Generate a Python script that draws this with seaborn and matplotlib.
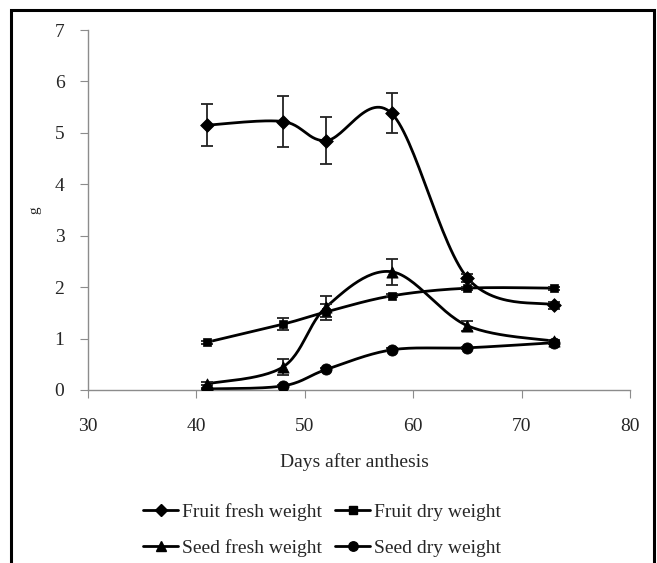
import numpy as np
import matplotlib
matplotlib.use("Agg")
import matplotlib.pyplot as plt
import seaborn as sns
from matplotlib.lines import Line2D
from matplotlib.patches import Rectangle

days = [41, 48, 52, 58, 65, 73]
fruit_fresh = [5.15, 5.22, 4.85, 5.38, 2.18, 1.65]
fruit_fresh_err = [0.41, 0.49, 0.45, 0.39, 0.08, 0.07]
fruit_dry = [0.93, 1.28, 1.52, 1.83, 1.98, 1.98]
fruit_dry_err = [0.03, 0.12, 0.15, 0.03, 0.03, 0.03]
seed_fresh = [0.12, 0.45, 1.62, 2.30, 1.25, 0.95]
seed_fresh_err = [0.03, 0.15, 0.20, 0.25, 0.10, 0.03]
seed_dry = [0.02, 0.08, 0.40, 0.78, 0.82, 0.92]
seed_dry_err = [0.01, 0.02, 0.03, 0.03, 0.02, 0.02]

labels = ["Fruit fresh weight", "Fruit dry weight", "Seed fresh weight", "Seed dry weight"]
markers = ["D", "s", "^", "o"]
msizes = [7, 6, 8, 8]

sns.set_style("white")
plt.rcParams["font.family"] = ["Liberation Serif", "DejaVu Serif"]

fig = plt.figure(figsize=(6.57, 5.63), dpi=100)
ax = fig.add_axes([88/657, 1 - 390/563, (630-88)/657, (390-30)/563])


def smooth(x, y, n=30):
    x = np.asarray(x, float)
    y = np.asarray(y, float)
    P = np.column_stack([x, y])
    Pe = np.vstack([P[0], P, P[-1]])
    out = []
    for i in range(len(P) - 1):
        p0, p1, p2, p3 = Pe[i], Pe[i+1], Pe[i+2], Pe[i+3]
        c1 = p1 + (p2 - p0) / 6
        c2 = p2 - (p3 - p1) / 6
        t = np.linspace(0, 1, n)[:, None]
        seg = (1-t)**3*p1 + 3*(1-t)**2*t*c1 + 3*(1-t)*t**2*c2 + t**3*p2
        out.append(seg if i == 0 else seg[1:])
    s = np.vstack(out)
    return s[:, 0], s[:, 1]


series = [(fruit_fresh, fruit_fresh_err), (fruit_dry, fruit_dry_err),
          (seed_fresh, seed_fresh_err), (seed_dry, seed_dry_err)]
for (vals, errs), m, ms in zip(series, markers, msizes):
    sx, sy = smooth(days, vals)
    sns.lineplot(x=sx, y=sy, ax=ax, color="black", lw=2, sort=False, estimator=None)
    ax.errorbar(days, vals, yerr=errs, fmt="none", ecolor="#222222", elinewidth=1.3,
                capsize=4, capthick=1.3, zorder=3)
    sns.scatterplot(x=days, y=vals, ax=ax, marker=m, s=ms**2, color="black",
                    edgecolor="black", zorder=4, legend=False)

ax.set_xlim(30, 80)
ax.set_ylim(0, 7)
ax.set_xticks(range(30, 81, 10))
ax.set_yticks(range(0, 8))
for s in ["top", "right"]:
    ax.spines[s].set_visible(False)
for s in ["left", "bottom"]:
    ax.spines[s].set_color("#8c8c8c")
    ax.spines[s].set_linewidth(1)
ax.tick_params(axis="both", direction="out", length=6, color="#8c8c8c",
               labelsize=14, pad=10, left=True, bottom=True)
ax.tick_params(axis="x", pad=14)
ax.tick_params(axis="y", pad=11)
ax.set_xlabel("Days after anthesis", fontsize=14, va="center")
ax.xaxis.set_label_coords((354-88)/542, -(462-390)/360)
ax.set_ylabel("g", fontsize=11, va="center")
ax.yaxis.set_label_coords(-(88-35)/542, (390-210)/360)

# Row-wise legend order for ncol=2
order = [0, 2, 1, 3]
handles = [Line2D([], [], color="black", lw=2, marker=markers[i], markersize=msizes[i]*0.85)
           for i in order]
fig.legend(handles, [labels[i] for i in order], loc="center",
           bbox_to_anchor=(322/657, 1 - 530/563),
           ncol=2, frameon=False, fontsize=14, handlelength=1.8, handletextpad=0.2,
           columnspacing=0.67, labelspacing=0.95)

fig.patches.append(Rectangle((10.5/657, -0.01), (654-10.5)/657, 1 - 9.5/563 + 0.01,
                             transform=fig.transFigure, fill=False,
                             edgecolor="black", lw=2.2))

fig.savefig("out.png", dpi=100)
